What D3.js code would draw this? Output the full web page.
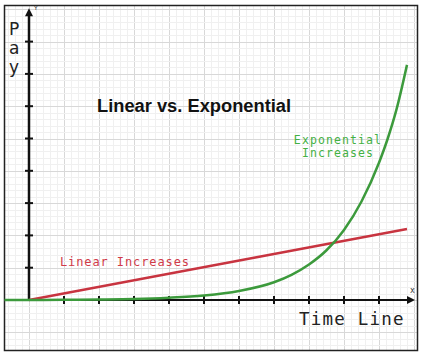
<!DOCTYPE html>
<html><head><meta charset="utf-8">
<script src="https://cdn.jsdelivr.net/npm/d3@7"></script>
<style>html,body{margin:0;padding:0;background:#fff;}svg{display:block;}</style>
</head><body>
<script>
// Data (x in time units, y in pay units)
const xTicks = [1,2,3,4,5,6,7,8,9,10];
const yTicks = [1,2,3,4,5,6,7,8];
const linearX = [0, 10.8];
const linearY = [0, 2.2];
const expX = [-0.7, 0, 1, 2, 3, 4, 5, 6, 7, 7.5, 8, 8.5, 9, 9.5, 10, 10.25, 10.5, 10.8];
const expY = [0, 0, 0.005, 0.014, 0.03, 0.07, 0.14, 0.28, 0.55, 0.78, 1.10, 1.54, 2.17, 3.05, 4.25, 5.0, 5.9, 7.28];
const title = "Linear vs. Exponential";
const xLabel = "Time Line";
const yLabel = ["P","a","y"];
const linearLabel = "Linear Increases";
const expLabel = ["Exponential","Increases"];

const W = 424, H = 358;
const svg = d3.select("body").append("svg").attr("width", W).attr("height", H);

const box = {x0: 4.5, y0: 5.5, x1: 417.5, y1: 350.5};
const x = d3.scaleLinear().domain([0, 11]).range([29, 414]);
const y = d3.scaleLinear().domain([0, 9]).range([300, 300 - 9*32.3]);

// clip for grid
svg.append("clipPath").attr("id","bx").append("rect")
  .attr("x", box.x0).attr("y", box.y0).attr("width", box.x1-box.x0).attr("height", box.y1-box.y0);
const grid = svg.append("g").attr("clip-path","url(#bx)");
const minorX = d3.range(-1, 12.01, 0.2), minorY = d3.range(-2, 10.01, 0.2);
grid.selectAll(".mx").data(minorX).join("line")
  .attr("x1", d => Math.round(x(d))+0.5).attr("x2", d => Math.round(x(d))+0.5)
  .attr("y1", box.y0).attr("y2", box.y1)
  .attr("stroke", d => Math.abs(d - Math.round(d)) < 1e-6 ? "#d8d8d8" : "#f0f0f0").attr("stroke-width", 1);
grid.selectAll(".my").data(minorY).join("line")
  .attr("y1", d => Math.round(y(d))+0.5).attr("y2", d => Math.round(y(d))+0.5)
  .attr("x1", box.x0).attr("x2", box.x1)
  .attr("stroke", d => Math.abs(d - Math.round(d)) < 1e-6 ? "#d8d8d8" : "#f0f0f0").attr("stroke-width", 1);

// border
svg.append("rect").attr("x", box.x0).attr("y", box.y0).attr("width", box.x1-box.x0).attr("height", box.y1-box.y0)
  .attr("fill","none").attr("stroke","#222").attr("stroke-width",1.5);

// axes
const ax = svg.append("g");
ax.append("line").attr("x1", x(0)).attr("x2", x(11)-4).attr("y1", y(0)).attr("y2", y(0))
  .attr("stroke","#111").attr("stroke-width",2);
ax.append("path").attr("d", `M${x(11)+1},${y(0)} L${x(11)-7},${y(0)-4} L${x(11)-7},${y(0)+4}Z`).attr("fill","#111");
ax.append("line").attr("x1", x(0)).attr("x2", x(0)).attr("y1", y(0)).attr("y2", y(9)+4)
  .attr("stroke","#111").attr("stroke-width",2.5);
ax.append("path").attr("d", `M${x(0)},${y(9)-1} L${x(0)-4},${y(9)+7} L${x(0)+4},${y(9)+7}Z`).attr("fill","#111");
ax.selectAll(".xt").data(xTicks).join("line")
  .attr("x1", d => x(d)).attr("x2", d => x(d)).attr("y1", y(0)-4).attr("y2", y(0)+4)
  .attr("stroke","#111").attr("stroke-width",2);
ax.selectAll(".yt").data(yTicks).join("line")
  .attr("y1", d => y(d)).attr("y2", d => y(d)).attr("x1", x(0)-4).attr("x2", x(0)+4)
  .attr("stroke","#111").attr("stroke-width",2);
ax.append("text").attr("x", x(0)+5).attr("y", y(9)+1).text("Y")
  .attr("font-family","DejaVu Sans").attr("font-size",6).attr("fill","#333");
ax.append("text").attr("x", x(11)-4).attr("y", y(0)-7).text("x")
  .attr("font-family","DejaVu Sans Mono").attr("font-size",8).attr("fill","#333");

// series
const line = d3.line().x(d => x(d[0])).y(d => y(d[1]));
svg.append("path").datum(d3.zip(linearX, linearY)).attr("d", line)
  .attr("fill","none").attr("stroke","#c83440").attr("stroke-width",2.5);
svg.append("path").datum(d3.zip(expX, expY)).attr("d", line.curve(d3.curveMonotoneX))
  .attr("fill","none").attr("stroke","#3c9a3c").attr("stroke-width",2.5);

// texts
svg.append("text").attr("x", 97).attr("y", 112).text(title)
  .attr("font-family","Liberation Sans, Arial, sans-serif").attr("font-weight","bold").attr("font-size",18.3).attr("fill","#111");
svg.selectAll(".yl").data(yLabel).join("text")
  .attr("x", 9).attr("y", (d,i) => 35 + i*19).text(d => d)
  .attr("font-family","DejaVu Sans, sans-serif").attr("font-size",17).attr("fill","#222");
svg.append("text").attr("x", 299).attr("y", 325).text(xLabel)
  .attr("font-family","DejaVu Sans Mono, monospace").attr("font-size",17.5).attr("letter-spacing",1.2).attr("fill","#222");
svg.append("text").attr("x", 60).attr("y", 266).text(linearLabel)
  .attr("font-family","DejaVu Sans Mono, monospace").attr("font-size",12).attr("letter-spacing",0.9).attr("fill","#d03a48");
svg.selectAll(".el").data(expLabel).join("text")
  .attr("x", 338).attr("y", (d,i) => 144 + i*13).attr("text-anchor","middle").text(d => d)
  .attr("font-family","DejaVu Sans Mono, monospace").attr("font-size",11.5).attr("letter-spacing",1.1).attr("fill","#44b044");
</script>
</body></html>
